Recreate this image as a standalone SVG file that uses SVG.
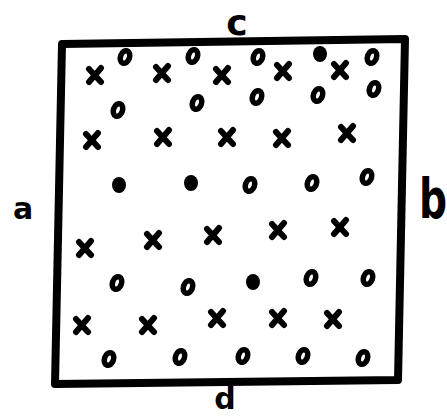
<svg xmlns="http://www.w3.org/2000/svg" width="447" height="416" viewBox="0 0 447 416">
<style>
.o{fill:none;stroke:#000;stroke-width:5.5}
.f{fill:#000}
.x{fill:none;stroke:#000;stroke-width:6;stroke-linecap:round}
.lbl{font-family:"DejaVu Sans",sans-serif;font-weight:bold;fill:#000}
</style>
<defs>
<ellipse id="o" class="o" cx="0" cy="0" rx="4.5" ry="6.5" transform="rotate(20)"/>
<ellipse id="of" class="f" cx="0" cy="0" rx="7" ry="8"/>
<path id="x" class="x" d="M-6,-6 L6,7 M6,-7 L-6,7"/>
</defs>
<rect width="447" height="416" fill="#fff"/>
<path d="M62,44 L405,39 L398,380 L55,384 Z" fill="none" stroke="#000" stroke-width="8" stroke-linejoin="round"/>
<g id="marks">
<use href="#o" x="125" y="57"/><use href="#o" x="193" y="56"/><use href="#o" x="258" y="57"/><use href="#of" x="320" y="54"/><use href="#o" x="372" y="57"/>
<use href="#x" x="95" y="75"/><use href="#x" x="162" y="73"/><use href="#x" x="222" y="75"/><use href="#x" x="283" y="71"/><use href="#x" x="340" y="70"/>
<use href="#o" x="118" y="110"/><use href="#o" x="197" y="103"/><use href="#o" x="257" y="97"/><use href="#o" x="318" y="95"/><use href="#o" x="374" y="89"/>
<use href="#x" x="92" y="140"/><use href="#x" x="163" y="137"/><use href="#x" x="227" y="137"/><use href="#x" x="282" y="138"/><use href="#x" x="347" y="133"/>
<use href="#of" x="119" y="185"/><use href="#of" x="191" y="183"/><use href="#o" x="250" y="185"/><use href="#o" x="312" y="183"/><use href="#o" x="367" y="177"/>
<use href="#x" x="85" y="248"/><use href="#x" x="153" y="240"/><use href="#x" x="213" y="235"/><use href="#x" x="278" y="230"/><use href="#x" x="340" y="227"/>
<use href="#o" x="117" y="283"/><use href="#o" x="188" y="287"/><use href="#of" x="253" y="282"/><use href="#o" x="311" y="278"/><use href="#o" x="368" y="278"/>
<use href="#x" x="82" y="325"/><use href="#x" x="148" y="325"/><use href="#x" x="217" y="318"/><use href="#x" x="278" y="318"/><use href="#x" x="333" y="319"/>
<use href="#o" x="109" y="359"/><use href="#o" x="180" y="357"/><use href="#o" x="243" y="356"/><use href="#o" x="303" y="356"/><use href="#o" x="363" y="358"/>
</g>
<text class="lbl" x="237" y="35" font-size="36" text-anchor="middle">c</text>
<text class="lbl" transform="translate(433,218) scale(0.7,1)" font-size="56" text-anchor="middle">b</text>
<text class="lbl" x="225" y="409" font-size="30" text-anchor="middle">d</text>
<text class="lbl" x="23" y="219" font-size="30" text-anchor="middle">a</text>
</svg>
